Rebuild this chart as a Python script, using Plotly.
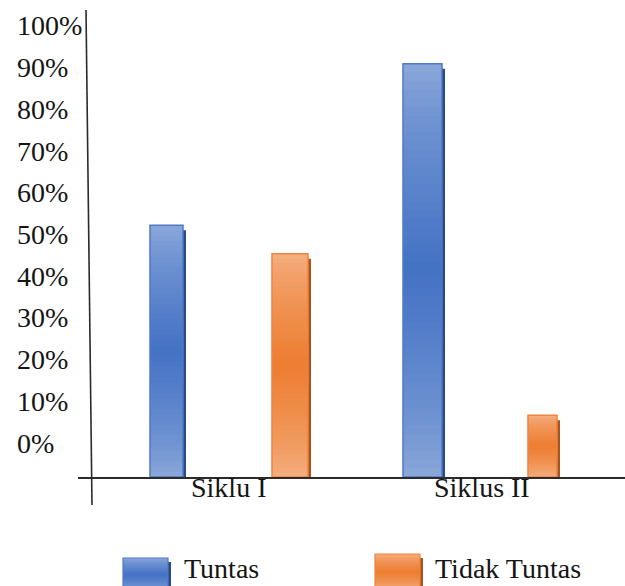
import plotly.graph_objects as go

# ---- data -------------------------------------------------------------
categories = ["Siklu I", "Siklus II"]
series_names = ["Tuntas", "Tidak Tuntas"]
tuntas = [53, 87]
tidak_tuntas = [47, 13]
y_tick_labels = ["0%", "10%", "20%", "30%", "40%", "50%",
                 "60%", "70%", "80%", "90%", "100%"]

# ---- page geometry (pixels) --------------------------------------------
W, H = 625, 586
PLOT_L, PLOT_R, PLOT_T, PLOT_B = 78, 625, 2, 477
CAT0_PX, CAT_STEP_PX = 228, 254          # centre of first group, group spacing
FONT = "Liberation Serif"
TEXT_COLOR = "#151515"
PX_PER_UNIT = (PLOT_B - PLOT_T) / 100.0  # vertical pixels per percent


def px_x(px):
    return (px - PLOT_L) / (PLOT_R - PLOT_L)


def px_y(py):
    return (PLOT_B - py) / (PLOT_B - PLOT_T)


def units(dpx):
    return dpx / CAT_STEP_PX


def hex_rgb(h):
    h = h.lstrip("#")
    return tuple(int(h[i:i + 2], 16) for i in (0, 2, 4))


def mix(c1, c2, w):
    a, b = hex_rgb(c1), hex_rgb(c2)
    r = [round(a[i] + (b[i] - a[i]) * w) for i in range(3)]
    return f"rgb({r[0]},{r[1]},{r[2]})"


def shade(t):
    # light at both ends, darkest in the middle of the bar
    return (1 - abs(2 * t - 1)) ** 0.7


# ---- bar styling -------------------------------------------------------
styles = {
    "Tuntas": dict(left_px=[-78, -79], width_px=[33, 39],
                   light="#8eaadb", dark="#4472c4",
                   border="#4f78c9", shadow="#2a4a86"),
    "Tidak Tuntas": dict(left_px=[44, 46], width_px=[36, 29],
                         light="#f4b183", dark="#ed7d31",
                         border="#ef8440", shadow="#a9541a"),
}

N_SLICES = 48
OVERLAP = 1.5 / PX_PER_UNIT   # each slice reaches into the next one to hide seams
fig = go.Figure()

for name, values in zip(series_names, [tuntas, tidak_tuntas]):
    st = styles[name]
    offs = [units(p) for p in st["left_px"]]
    wids = [units(p) for p in st["width_px"]]

    # drop shadow on the right-hand side
    fig.add_trace(go.Bar(
        x=categories, y=[v - 0.75 for v in values], base=[-0.3] * len(values),
        offset=[o + units(3) for o in offs], width=wids,
        marker=dict(color=st["shadow"], line=dict(width=0)),
        cliponaxis=False, showlegend=False, hoverinfo="skip"))

    # vertical gradient body
    for i in range(N_SLICES):
        t = (i + 0.5) / N_SLICES
        ov = OVERLAP if i < N_SLICES - 1 else 0.0
        fig.add_trace(go.Bar(
            x=categories, y=[v / N_SLICES + ov for v in values],
            base=[v * i / N_SLICES for v in values],
            offset=offs, width=wids,
            marker=dict(color=mix(st["light"], st["dark"], shade(t)),
                        line=dict(width=0)),
            showlegend=False, hoverinfo="skip"))

    # outline
    fig.add_trace(go.Bar(
        x=categories, y=values, name=name, offset=offs, width=wids,
        marker=dict(color="rgba(0,0,0,0)", line=dict(color=st["border"], width=1.5)),
        showlegend=False, hovertemplate="%{x}: %{y}%<extra>" + name + "</extra>"))

shapes = []
annotations = []

# slanted value axis line
shapes.append(dict(type="line", xref="paper", yref="paper",
                   x0=px_x(86), y0=px_y(10), x1=px_x(92), y1=px_y(505),
                   line=dict(color="#2b2b2b", width=1.6)))

# value-axis labels, left aligned
LABEL0_PX, LABEL_STEP_PX = 443, 41.7
for k, lab in enumerate(y_tick_labels):
    annotations.append(dict(
        text=lab, xref="paper", yref="paper",
        x=px_x(15), y=px_y(LABEL0_PX - k * LABEL_STEP_PX),
        xanchor="left", yanchor="middle", showarrow=False,
        font=dict(family=FONT, size=28, color=TEXT_COLOR)))

# category labels sitting right under the base line
for cat in categories:
    annotations.append(dict(
        text=cat, xref="x", yref="paper", x=cat, y=px_y(488),
        xanchor="center", yanchor="middle", showarrow=False,
        font=dict(family=FONT, size=28, color=TEXT_COLOR)))

# legend
legend_items = [
    dict(name=series_names[0], x0=123, x1=168, top=558, bottom=592, text_x=182),
    dict(name=series_names[1], x0=375, x1=420, top=554, bottom=590, text_x=433),
]
for item in legend_items:
    st = styles[item["name"]]
    shapes.append(dict(type="rect", xref="paper", yref="paper",
                       x0=px_x(item["x1"]), x1=px_x(item["x1"] + 3),
                       y0=px_y(item["bottom"]), y1=px_y(item["top"] + 4),
                       fillcolor=st["shadow"], line=dict(width=0)))
    n = 24
    h = (item["bottom"] - item["top"]) / n
    for i in range(n):
        t = 1 - (i + 0.5) / n
        shapes.append(dict(type="rect", xref="paper", yref="paper",
                           x0=px_x(item["x0"]), x1=px_x(item["x1"]),
                           y0=px_y(item["top"] + (i + 1) * h + 1.5),
                           y1=px_y(item["top"] + i * h),
                           fillcolor=mix(st["light"], st["dark"], shade(t)),
                           line=dict(width=0)))
    shapes.append(dict(type="rect", xref="paper", yref="paper",
                       x0=px_x(item["x0"]), x1=px_x(item["x1"]),
                       y0=px_y(item["bottom"]), y1=px_y(item["top"]),
                       fillcolor="rgba(0,0,0,0)",
                       line=dict(color=st["border"], width=1.2)))
    annotations.append(dict(
        text=item["name"], xref="paper", yref="paper",
        x=px_x(item["text_x"]), y=px_y(568),
        xanchor="left", yanchor="middle", showarrow=False,
        font=dict(family=FONT, size=28, color=TEXT_COLOR)))

fig.update_layout(
    width=W, height=H,
    margin=dict(l=PLOT_L, r=W - PLOT_R, t=PLOT_T, b=H - PLOT_B, pad=0),
    paper_bgcolor="white", plot_bgcolor="white",
    barmode="overlay", showlegend=False,
    shapes=shapes, annotations=annotations,
    xaxis=dict(type="category",
               range=[units(PLOT_L - CAT0_PX), units(PLOT_R - CAT0_PX)],
               showline=True, linecolor="#2b2b2b", linewidth=1.6,
               showgrid=False, zeroline=False, ticks="", showticklabels=False),
    yaxis=dict(range=[0, 100], visible=False, showgrid=False, zeroline=False),
)

fig.write_html("out.html")
